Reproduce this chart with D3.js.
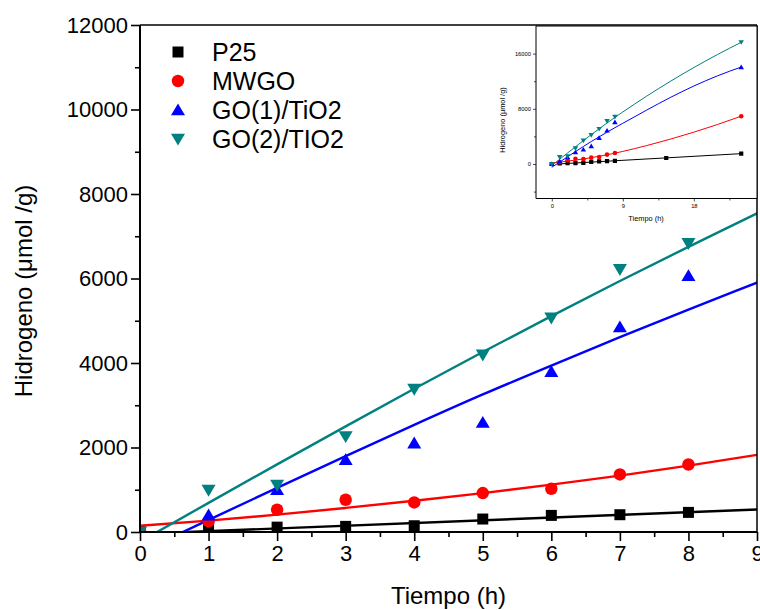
<!DOCTYPE html>
<html>
<head>
<meta charset="utf-8">
<script src="https://cdn.jsdelivr.net/npm/d3@7/dist/d3.min.js"></script>
<style>
  html, body { margin: 0; padding: 0; background: #fff; }
  svg { display: block; }
  text { font-family: "Liberation Sans", Arial, sans-serif; fill: #000; }
</style>
</head>
<body>
<svg id="chart" width="760" height="610"></svg>
<script>
// Hydrogen production (µmol/g) vs irradiation time (h)
const seriesNames = ["P25", "MWGO", "GO(1)/TiO2", "GO(2)/TIO2"];
const seriesColors = ["#000000", "#ff0000", "#0000ff", "#008080"];

// measured points
const p25Hours = [0, 1, 2, 3, 4, 5, 6, 7, 8, 14.5, 24];
const p25 = [0, 90, 115, 133, 148, 307, 393, 409, 464, 873, 1500];
const sampleHours = [0, 1, 2, 3, 4, 5, 6, 7, 8, 24];
const mwgo = [0, 250, 527, 763, 700, 922, 1024, 1362, 1598, 6924];
const go1 = [0, 400, 1000, 1710, 2104, 2592, 3797, 4853, 6066, 14050];
const go2 = [0, 990, 1110, 2260, 3380, 4191, 5066, 6217, 6832, 17640];

// fitted curves
const p25FitHours = [0.7, 24];
const p25Fit = [0, 1500];
const fitHours = [0, 1, 2, 3, 4, 5, 6, 7, 8, 9, 12, 15, 18, 21, 24];
const mwgoFit = [148, 270, 410, 570, 740, 920, 1120, 1335, 1570, 1825, 2665, 3595, 4615, 5725, 6925];
const go1Fit = [-480, 285, 1045, 1795, 2535, 3255, 3940, 4610, 5265, 5900, 7800, 9630, 11300, 12780, 14050];
const go2Fit = [-230, 690, 1600, 2500, 3390, 4260, 5110, 5940, 6750, 7540, 9820, 11960, 13980, 15870, 17640];

// axis ticks
const xTicks = [0, 1, 2, 3, 4, 5, 6, 7, 8, 9];
const xMinorTicks = [0.5, 1.5, 2.5, 3.5, 4.5, 5.5, 6.5, 7.5, 8.5];
const yTicks = [0, 2000, 4000, 6000, 8000, 10000, 12000];
const yMinorTicks = [1000, 3000, 5000, 7000, 9000, 11000];
const insetXTicks = [0, 9, 18];
const insetXMinorTicks = [4.5, 13.5, 22.5];
const insetYTicks = [0, 8000, 16000];
const insetYMinorTicks = [-4000, 4000, 12000];

const pointSets = [
  { hours: p25Hours, values: p25, fitH: p25FitHours, fitV: p25Fit, shape: "square" },
  { hours: sampleHours, values: mwgo, fitH: fitHours, fitV: mwgoFit, shape: "circle" },
  { hours: sampleHours, values: go1, fitH: fitHours, fitV: go1Fit, shape: "up" },
  { hours: sampleHours, values: go2, fitH: fitHours, fitV: go2Fit, shape: "down" }
];

const svg = d3.select("#chart");

function markerPath(shape, s) {
  // s = nominal marker width in px
  if (shape === "square") {
    const h = s / 2;
    return `M${-h},${-h}H${h}V${h}H${-h}Z`;
  }
  if (shape === "circle") {
    const r = s / 2;
    return `M${r},0A${r},${r} 0 1,1 ${-r},0A${r},${r} 0 1,1 ${r},0Z`;
  }
  const w = s / 2, h = s * 0.85;
  if (shape === "up") return `M0,${-h * 0.55}L${w},${h * 0.45}L${-w},${h * 0.45}Z`;
  return `M0,${h * 0.55}L${w},${-h * 0.45}L${-w},${-h * 0.45}Z`;
}

function drawPanel(g, x, y, opts) {
  const [x0, x1] = x.range();
  const [yb, yt] = y.range();
  const clipId = opts.id + "-clip";
  g.append("clipPath").attr("id", clipId)
    .append("rect").attr("x", x0).attr("y", yt).attr("width", x1 - x0).attr("height", yb - yt);

  const plot = g.append("g").attr("clip-path", `url(#${clipId})`);
  const line = d3.line().x(d => x(d[0])).y(d => y(d[1])).curve(d3.curveMonotoneX);

  pointSets.forEach((s, i) => {
    const fit = s.fitH.map((h, k) => [h, s.fitV[k]]);
    plot.append("path")
      .attr("d", line(fit))
      .attr("fill", "none")
      .attr("stroke", seriesColors[i])
      .attr("stroke-width", opts.lineWidth);
  });
  pointSets.forEach((s, i) => {
    const pts = s.hours.map((h, k) => [h, s.values[k]])
      .filter(d => d[0] >= x.domain()[0] && d[0] <= x.domain()[1]);
    plot.selectAll(null).data(pts).enter().append("path")
      .attr("transform", d => `translate(${x(d[0])},${y(d[1])})`)
      .attr("d", markerPath(s.shape, opts.marker[s.shape]))
      .attr("fill", seriesColors[i]);
  });

  // frame
  g.append("line").attr("x1", x0).attr("x2", x1).attr("y1", yt).attr("y2", yt)
    .attr("stroke", "#000").attr("stroke-width", opts.frameWidth);
  g.append("line").attr("x1", x1).attr("x2", x1).attr("y1", yt).attr("y2", yb)
    .attr("stroke", "#000").attr("stroke-width", opts.frameWidth);

  // axes
  const xa = g.append("g").attr("transform", `translate(0,${yb})`)
    .call(d3.axisBottom(x).tickValues(opts.xTicks).tickSize(opts.major).tickPadding(opts.xPad).tickFormat(d3.format("d")));
  const xm = g.append("g").attr("transform", `translate(0,${yb})`)
    .call(d3.axisBottom(x).tickValues(opts.xMinor).tickSize(opts.minor).tickFormat(""));
  const ya = g.append("g").attr("transform", `translate(${x0},0)`)
    .call(d3.axisLeft(y).tickValues(opts.yTicks).tickSize(opts.major).tickPadding(opts.yPad).tickFormat(d3.format("d")));
  const ym = g.append("g").attr("transform", `translate(${x0},0)`)
    .call(d3.axisLeft(y).tickValues(opts.yMinor).tickSize(opts.minor).tickFormat(""));

  [xa, xm, ya, ym].forEach(a => {
    a.select(".domain").remove();
    a.selectAll(".tick line").attr("stroke", "#000").attr("stroke-width", opts.tickWidth);
    a.selectAll(".tick text")
      .attr("font-family", '"Liberation Sans", Arial, sans-serif')
      .attr("font-size", opts.tickFont).attr("fill", "#000");
  });
  g.append("line").attr("x1", x0).attr("x2", x1).attr("y1", yb).attr("y2", yb)
    .attr("stroke", "#000").attr("stroke-width", opts.axisWidth);
  g.append("line").attr("x1", x0).attr("x2", x0).attr("y1", yt).attr("y2", yb)
    .attr("stroke", "#000").attr("stroke-width", opts.axisWidth);

  // titles
  g.append("text")
    .attr("x", (x0 + x1) / 2 + opts.xTitleDx).attr("y", opts.xTitleY)
    .attr("text-anchor", "middle").attr("font-size", opts.titleFont)
    .text("Tiempo (h)");
  g.append("text")
    .attr("transform", `translate(${opts.yTitleX},${opts.yTitleY}) rotate(-90)`)
    .attr("text-anchor", "middle").attr("font-size", opts.titleFont)
    .text("Hidrogeno (\u03bcmol /g)");
}

// main panel
const x = d3.scaleLinear().domain([0, 9]).range([140, 757]);
const y = d3.scaleLinear().domain([0, 12000]).range([532, 25]);
drawPanel(svg.append("g"), x, y, {
  id: "main", lineWidth: 2.4, frameWidth: 1.5, axisWidth: 2, tickWidth: 1.6,
  major: 9, minor: 5, xPad: 4, yPad: 3, tickFont: 22, titleFont: 24,
  marker: { square: 11, circle: 12.5, up: 14, down: 14 },
  xTicks: xTicks, xMinor: xMinorTicks, yTicks: yTicks, yMinor: yMinorTicks,
  xTitleDx: 0, xTitleY: 604, yTitleX: 32, yTitleY: 291
});

// legend
const legendMarker = { square: 11, circle: 12.5, up: 14, down: 14 };
const legend = svg.append("g");
seriesNames.forEach((name, i) => {
  const ly = 52 + i * 29;
  legend.append("path")
    .attr("transform", `translate(178,${ly})`)
    .attr("d", markerPath(pointSets[i].shape, legendMarker[pointSets[i].shape]))
    .attr("fill", seriesColors[i]);
  legend.append("text")
    .attr("x", 212).attr("y", ly + 9)
    .attr("font-size", 25)
    .text(name);
});

// inset panel: full 24 h run
const xi = d3.scaleLinear().domain([-2, 26]).range([536, 757]);
const yi = d3.scaleLinear().domain([-5000, 20000]).range([198.5, 26]);
const inset = svg.append("g");
inset.append("rect").attr("x", 536).attr("y", 26).attr("width", 221).attr("height", 172.5).attr("fill", "#fff");
drawPanel(inset, xi, yi, {
  id: "inset", lineWidth: 1, frameWidth: 1, axisWidth: 1, tickWidth: 0.7,
  major: 3, minor: 2, xPad: 2, yPad: 2, tickFont: 5.8, titleFont: 7.4,
  marker: { square: 4.2, circle: 4.6, up: 5.5, down: 5.5 },
  xTicks: insetXTicks, xMinor: insetXMinorTicks, yTicks: insetYTicks, yMinor: insetYMinorTicks,
  xTitleDx: -0.5, xTitleY: 221, yTitleX: 505, yTitleY: 120
});
</script>
</body>
</html>
